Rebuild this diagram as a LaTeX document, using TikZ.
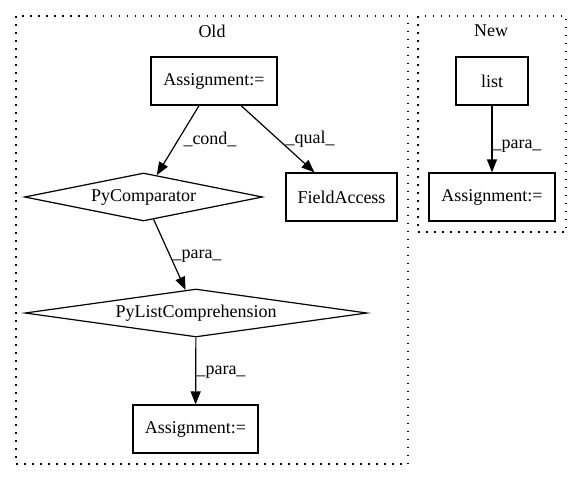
\documentclass[tikz,border=0pt]{standalone}
\usepackage{fontspec}
\setmainfont{Liberation Serif}
\usetikzlibrary{shapes.geometric,arrows.meta}
\begin{document}
\begin{tikzpicture}[x=1pt,y=-1pt,
  every node/.style={font=\fontsize{18}{21}\selectfont},
  box/.style={draw,line width=1.2pt,rectangle,minimum height=48pt,inner sep=0pt},
  dia/.style={draw,line width=1.2pt,diamond,inner sep=0pt,minimum height=48pt},
  cluster/.style={draw,line width=1.2pt,dash pattern=on 1.5pt off 6.5pt},
  edge/.style={line width=1.2pt,-{Triangle[length=13pt,width=10pt]}},
  lbl/.style={inner sep=0pt}]
\useasboundingbox (0,0) rectangle (581,480);
% clusters
\draw[cluster] (16,16) rectangle (408,464);
\draw[cluster] (418,16) rectangle (566,232);
\node[lbl] (oldlbl) at (212,31) {Old};
\node[lbl] (newlbl) at (491,31) {New};
% nodes
\node[box,minimum width=126pt] (a1) at (214,81) {Assignment:=};
\node[dia,minimum width=238pt,aspect=4.96] (pc) at (143.5,197) {PyComparator};
\node[box,minimum width=111pt] (fa) at (341.5,197) {FieldAccess};
\node[dia,minimum width=342pt,aspect=7.1] (plc) at (196,313) {PyListComprehension};
\node[box,minimum width=125pt] (a2) at (195.5,429) {Assignment:=};
\node[box,minimum width=72pt] (lst) at (492,81) {list};
\node[box,minimum width=126pt] (a3) at (492,197) {Assignment:=};
% edges
\draw[edge] (a1) -- (pc);
\draw[edge] (a1) -- (fa);
\draw[edge] (pc) -- (plc);
\draw[edge] (plc) -- (a2);
\draw[edge] (lst) -- (a3);
% edge labels
\node[lbl] (l1) at (210,139) {\_cond\_};
\node[lbl] (l2) at (310,139) {\_qual\_};
\node[lbl] (l3) at (197,256) {\_para\_};
\node[lbl] (l4) at (221,372) {\_para\_};
\node[lbl] (l5) at (517,146) {\_para\_};
\end{tikzpicture}
\end{document}
